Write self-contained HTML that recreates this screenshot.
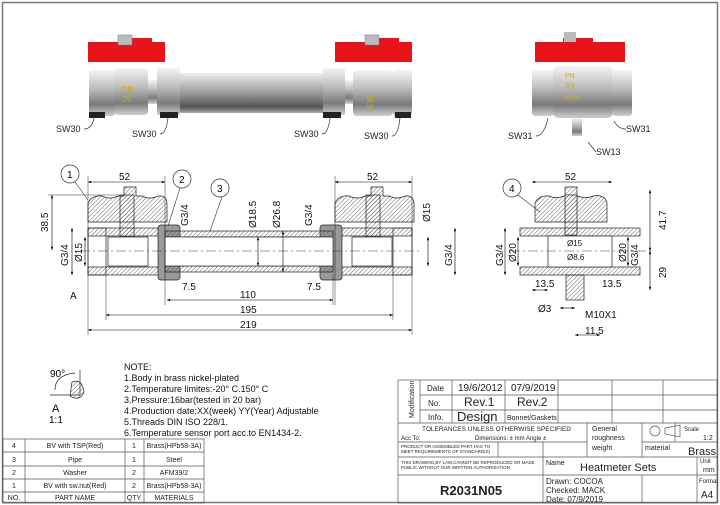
<!DOCTYPE html>
<html><head><style>
body{margin:0;background:#fff}
svg{display:block;font-family:"Liberation Sans",sans-serif}
</style></head><body>
<svg width="720" height="505" viewBox="0 0 720 505" xmlns="http://www.w3.org/2000/svg">
<defs>
<pattern id="h" width="3" height="3" patternUnits="userSpaceOnUse" patternTransform="rotate(45)"><line x1="0" y1="0" x2="0" y2="3" stroke="#444" stroke-width="0.8"/></pattern>
<linearGradient id="m" x1="0" y1="0" x2="0" y2="1"><stop offset="0" stop-color="#f4f4f4"/><stop offset=".4" stop-color="#bdbdbd"/><stop offset=".75" stop-color="#7a7a7a"/><stop offset="1" stop-color="#d0d0d0"/></linearGradient>
<linearGradient id="p" x1="0" y1="0" x2="0" y2="1"><stop offset="0" stop-color="#eee"/><stop offset=".5" stop-color="#9a9a9a"/><stop offset=".85" stop-color="#555"/><stop offset="1" stop-color="#aaa"/></linearGradient>
<marker id="a" viewBox="0 0 8 6" refX="8" refY="3" markerWidth="6" markerHeight="4" orient="auto-start-reverse"><path d="M0,0L8,3L0,6z" fill="#000"/></marker>
</defs>
<rect x="2.5" y="2.5" width="715" height="500" fill="none" stroke="#777" stroke-width="1.5"/>

<g>
<path d="M88,42h30v-4h34v4h13v20h-77z" fill="#e8141a"/>
<rect x="118" y="35" width="14" height="10" fill="#bbb" stroke="#777" stroke-width=".5"/>
<rect x="89" y="70" width="26" height="46" rx="3" fill="url(#m)"/>
<rect x="114" y="68" width="34" height="47" rx="4" fill="url(#m)"/>
<rect x="148" y="80" width="10" height="24" fill="url(#m)"/>
<rect x="157" y="68" width="23" height="47" rx="2" fill="url(#m)"/>
<rect x="180" y="73" width="145" height="40" fill="url(#p)"/>
<rect x="323" y="68" width="22" height="47" rx="2" fill="url(#m)"/>
<rect x="345" y="80" width="9" height="24" fill="url(#m)"/>
<rect x="353" y="70" width="40" height="46" rx="4" fill="url(#m)"/>
<rect x="393" y="70" width="19" height="46" rx="3" fill="url(#m)"/>
<path d="M335,42h30v-4h34v4h13v20h-77z" fill="#e8141a"/>
<rect x="365" y="35" width="14" height="10" fill="#bbb" stroke="#777" stroke-width=".5"/>
<rect x="89" y="112" width="16" height="6" fill="#222"/><rect x="160" y="112" width="18" height="6" fill="#222"/>
<rect x="323" y="112" width="18" height="6" fill="#222"/><rect x="395" y="112" width="16" height="6" fill="#222"/>
<text x="122" y="92" font-size="8" fill="#d4b000">PN</text><text x="122" y="102" font-size="8" fill="#d4b000">25</text>
<text x="372" y="100" font-size="8" fill="#d4b000" transform="rotate(90 372 95)">BON</text>
<g font-size="9" fill="#222"><text x="56" y="132">SW30</text><text x="132" y="137">SW30</text><text x="294" y="137">SW30</text><text x="364" y="139">SW30</text>
<text x="508" y="139">SW31</text><text x="626" y="132">SW31</text><text x="596" y="155">SW13</text></g>
<g stroke="#333" fill="none" stroke-width=".7"><path d="M84,129q8,0 10,-11"/><path d="M160,134q6,0 8,-16"/><path d="M322,134q6,0 8,-16"/><path d="M392,136q6,0 8,-18"/><path d="M536,136q8,0 12,-18"/><path d="M626,129q-8,0 -12,-8"/><path d="M596,152l-8,-10"/></g>
</g>
<path d="M535,42h28v-4h30v4h32v20h-90z" fill="#e8141a"/>
<rect x="564" y="32" width="12" height="10" fill="#bbb"/>
<rect x="532" y="70" width="22" height="46" rx="3" fill="url(#m)"/>
<rect x="553" y="66" width="60" height="52" rx="6" fill="url(#m)"/>
<rect x="612" y="70" width="20" height="46" rx="3" fill="url(#m)"/>
<rect x="572" y="118" width="10" height="18" fill="url(#m)"/>
<text x="565" y="78" font-size="7" fill="#d4b000">PN</text><text x="565" y="88" font-size="7" fill="#d4b000">3/4</text><text x="563" y="100" font-size="7" fill="#d4b000">DN20</text>

<g stroke="#222" stroke-width=".7">
<path d="M88,203q4,-8 14,-7q8,4 16,0h6v-9h12v9h6q8,4 16,0q8,-1 9,7v19h-79z" fill="url(#h)"/>
<path d="M335,203q4,-8 14,-7q8,4 16,0h6v-9h12v9h6q8,4 16,0q8,-1 9,7v19h-79z" fill="url(#h)"/>
<rect x="120" y="195" width="14" height="42" fill="url(#h)"/>
<rect x="366" y="195" width="14" height="42" fill="url(#h)"/>
<rect x="88" y="228" width="80" height="8" fill="url(#h)"/><rect x="88" y="267" width="80" height="8" fill="url(#h)"/>
<rect x="332" y="228" width="80" height="8" fill="url(#h)"/><rect x="332" y="267" width="80" height="8" fill="url(#h)"/>
<rect x="88" y="228" width="18" height="47" fill="none"/><rect x="393" y="228" width="19" height="47" fill="none"/>
<rect x="158" y="225" width="22" height="55" rx="3" fill="#999"/>
<rect x="320" y="225" width="22" height="55" rx="3" fill="#999"/>
<rect x="165" y="231" width="168" height="6" fill="url(#h)"/>
<rect x="165" y="266" width="168" height="6" fill="url(#h)"/>
<rect x="165" y="237" width="168" height="29" fill="#fff"/>
<rect x="108" y="237" width="40" height="29" fill="#fff"/><rect x="352" y="237" width="40" height="29" fill="#fff"/>
</g>
<line x1="80" y1="251" x2="420" y2="251" stroke="#444" stroke-width=".6" stroke-dasharray="10 3 2 3"/>
<g stroke="#000" stroke-width=".6" fill="none" marker-start="url(#a)" marker-end="url(#a)">
<line x1="88" y1="182" x2="165" y2="182"/><line x1="335" y1="182" x2="412" y2="182"/>
<line x1="167" y1="300" x2="333" y2="300"/><line x1="106" y1="315" x2="393" y2="315"/><line x1="88" y1="330" x2="412" y2="330"/>
<line x1="52" y1="195" x2="52" y2="250"/><line x1="72" y1="228" x2="72" y2="275"/><line x1="85" y1="237" x2="85" y2="266"/>
<line x1="258" y1="237" x2="258" y2="266"/><line x1="283" y1="231" x2="283" y2="272"/>
<line x1="428" y1="237" x2="428" y2="266"/><line x1="455" y1="228" x2="455" y2="275"/>
</g>
<g stroke="#000" stroke-width=".4"><line x1="88" y1="176" x2="88" y2="335"/><line x1="412" y1="176" x2="412" y2="335"/><line x1="165" y1="176" x2="165" y2="305"/><line x1="335" y1="176" x2="335" y2="305"/><line x1="106" y1="275" x2="106" y2="320"/><line x1="393" y1="275" x2="393" y2="320"/><line x1="333" y1="275" x2="333" y2="305"/><line x1="48" y1="195" x2="120" y2="195"/></g>
<g font-size="10" fill="#111">
<text x="119" y="180">52</text><text x="367" y="180">52</text>
<text x="240" y="298">110</text><text x="240" y="313">195</text><text x="240" y="328">219</text>
<text x="182" y="290">7.5</text><text x="307" y="290">7.5</text><text x="70" y="299">A</text>
<text transform="translate(48,232) rotate(-90)">38.5</text><text transform="translate(68,266) rotate(-90)">G3/4</text><text transform="translate(82,262) rotate(-90)">Ø15</text>
<text transform="translate(188,226) rotate(-90)">G3/4</text><text transform="translate(256,228) rotate(-90)">Ø18.5</text><text transform="translate(280,228) rotate(-90)">Ø26.8</text><text transform="translate(312,226) rotate(-90)">G3/4</text>
<text transform="translate(430,222) rotate(-90)">Ø15</text><text transform="translate(452,266) rotate(-90)">G3/4</text>
</g>
<g fill="#fff" stroke="#333" stroke-width=".7"><circle cx="70" cy="174" r="9"/><circle cx="182" cy="179" r="9"/><circle cx="220" cy="188" r="9"/><circle cx="512" cy="188" r="9"/></g>
<g font-size="10"><text x="67" y="178">1</text><text x="179" y="183">2</text><text x="217" y="192">3</text><text x="509" y="192">4</text></g>
<g stroke="#333" stroke-width=".6" fill="none"><line x1="75" y1="182" x2="88" y2="200"/><line x1="180" y1="188" x2="168" y2="226"/><line x1="222" y1="197" x2="210" y2="231"/><line x1="518" y1="195" x2="540" y2="212"/></g>

<g stroke="#222" stroke-width=".7">
<path d="M535,203q4,-8 14,-7q6,3 16,0v-9h12v9q10,3 16,0q12,-2 14,7v19h-72z" fill="url(#h)"/>
<rect x="565" y="195" width="12" height="40" fill="url(#h)"/>
<rect x="520" y="228" width="120" height="8" fill="url(#h)"/><rect x="520" y="267" width="120" height="8" fill="url(#h)"/>
<rect x="548" y="236" width="64" height="31" fill="#fff"/>
<rect x="566" y="275" width="18" height="25" fill="url(#h)"/>
</g>
<line x1="510" y1="251" x2="650" y2="251" stroke="#444" stroke-width=".6" stroke-dasharray="10 3 2 3"/>
<g stroke="#000" stroke-width=".6" fill="none" marker-start="url(#a)" marker-end="url(#a)">
<line x1="532" y1="182" x2="612" y2="182"/><line x1="650" y1="190" x2="650" y2="251"/><line x1="650" y1="251" x2="650" y2="290"/>
<line x1="505" y1="228" x2="505" y2="275"/><line x1="518" y1="237" x2="518" y2="266"/><line x1="628" y1="237" x2="628" y2="266"/>
<line x1="532" y1="290" x2="548" y2="290"/><line x1="560" y1="308" x2="575" y2="308"/><line x1="575" y1="335" x2="600" y2="335"/>
</g>
<g font-size="10" fill="#111"><text x="565" y="180">52</text><text transform="translate(666,230) rotate(-90)">41.7</text><text transform="translate(666,278) rotate(-90)">29</text>
<text transform="translate(503,266) rotate(-90)">G3/4</text><text transform="translate(516,262) rotate(-90)">Ø20</text><text transform="translate(626,262) rotate(-90)">Ø20</text><text transform="translate(638,266) rotate(-90)">G3/4</text>
<text x="535" y="287">13.5</text><text x="602" y="287">13.5</text><text x="538" y="312">Ø3</text><text x="585" y="318">M10X1</text><text x="585" y="334">11.5</text>
<text x="567" y="246" font-size="8">Ø15</text><text x="567" y="260" font-size="8">Ø8.6</text></g>

<g stroke="#222" stroke-width=".7" fill="none"><line x1="80" y1="370" x2="80" y2="395"/><line x1="50" y1="395" x2="80" y2="395"/><path d="M72,382q10,-4 12,10q-4,10 -14,4z" fill="url(#h)"/><path d="M55,390q0,-15 20,-17"/></g>
<text x="50" y="377" font-size="10">90°</text><text x="52" y="412" font-size="11">A</text><text x="49" y="423" font-size="10">1:1</text>

<g font-size="9" fill="#111"><text x="124" y="370">NOTE:</text><text x="124" y="381">1.Body in brass nickel-plated</text><text x="124" y="392">2.Temperature limites:-20° C.150° C</text><text x="124" y="403">3.Pressure:16bar(tested in 20 bar)</text><text x="124" y="414">4.Production date:XX(week) YY(Year) Adjustable</text><text x="124" y="425">5.Threads DIN ISO 228/1.</text><text x="124" y="436">6.Temperature sensor port acc.to EN1434-2.</text></g>

<g stroke="#555" stroke-width=".7" fill="none">
<rect x="3" y="439" width="201" height="64"/>
<line x1="3" y1="452" x2="204" y2="452"/><line x1="3" y1="466" x2="204" y2="466"/><line x1="3" y1="479" x2="204" y2="479"/><line x1="3" y1="492" x2="204" y2="492"/>
<line x1="25" y1="439" x2="25" y2="503"/><line x1="125" y1="439" x2="125" y2="503"/><line x1="144" y1="439" x2="144" y2="503"/>
</g>
<g font-size="7" fill="#222" text-anchor="middle">
<text x="14" y="448">4</text><text x="75" y="448">BV with TSP(Red)</text><text x="134" y="448">1</text><text x="174" y="448">Brass(HPb58-3A)</text>
<text x="14" y="462">3</text><text x="75" y="462">Pipe</text><text x="134" y="462">1</text><text x="174" y="462">Steel</text>
<text x="14" y="475">2</text><text x="75" y="475">Washer</text><text x="134" y="475">2</text><text x="174" y="475">AFM39/2</text>
<text x="14" y="488">1</text><text x="75" y="488">BV with sw.nut(Red)</text><text x="134" y="488">2</text><text x="174" y="488">Brass(HPb58-3A)</text>
<text x="14" y="500">NO.</text><text x="75" y="500">PART NAME</text><text x="134" y="500">QTY</text><text x="174" y="500">MATERIALS</text>
</g>

<g stroke="#555" stroke-width=".7" fill="none">
<rect x="398" y="380" width="319" height="123"/>
<line x1="420" y1="380" x2="420" y2="423"/><line x1="452" y1="380" x2="452" y2="423"/><line x1="505" y1="380" x2="505" y2="423"/><line x1="558" y1="380" x2="558" y2="423"/><line x1="612" y1="380" x2="612" y2="423"/><line x1="663" y1="380" x2="663" y2="423"/>
<line x1="420" y1="395" x2="717" y2="395"/><line x1="420" y1="410" x2="717" y2="410"/><line x1="398" y1="423" x2="717" y2="423"/>
<line x1="398" y1="442" x2="587" y2="442"/><line x1="398" y1="457" x2="717" y2="457"/><line x1="398" y1="475" x2="717" y2="475"/>
<line x1="543" y1="442" x2="543" y2="503"/><line x1="587" y1="423" x2="587" y2="457"/><line x1="642" y1="423" x2="642" y2="457"/><line x1="675" y1="423" x2="675" y2="442"/><line x1="697" y1="457" x2="697" y2="503"/><line x1="642" y1="475" x2="642" y2="503"/>
<line x1="642" y1="442" x2="717" y2="442"/><line x1="498" y1="442" x2="498" y2="457"/>
<circle cx="655" cy="431" r="5"/><path d="M665,428l15,-3v12l-15,-3z"/>
</g>
<g fill="#222">
<text transform="translate(414,418) rotate(-90)" font-size="7">Modification</text>
<text x="427" y="391" font-size="8">Date</text><text x="458" y="391" font-size="10">19/6/2012</text><text x="511" y="391" font-size="10">07/9/2019</text>
<text x="428" y="406" font-size="8">No.</text><text x="464" y="406" font-size="12">Rev.1</text><text x="517" y="406" font-size="12">Rev.2</text>
<text x="428" y="420" font-size="8">Info.</text><text x="457" y="421" font-size="13">Design</text><text x="507" y="420" font-size="7">Bonnet/Gaskets</text>
<text x="422" y="431" font-size="6.5">TOLERANCES UNLESS OTHERWISE SPECIFIED</text>
<text x="401" y="440" font-size="6">Acc To:</text><text x="475" y="440" font-size="6">Dimensions: ±    mm   Angle ±</text>
<text x="592" y="431" font-size="7">General</text><text x="592" y="440" font-size="7">roughness</text>
<text x="684" y="431" font-size="6">Scale</text><text x="703" y="440" font-size="7">1:2</text>
<text x="401" y="448" font-size="4.5">PRODUCT OR ASSEMBLED PART HAS TO</text><text x="401" y="453" font-size="4.5">MEET REQUIREMENTS OF STANDARD(S)</text>
<text x="592" y="450" font-size="7">weight</text><text x="645" y="450" font-size="7">material</text><text x="688" y="455" font-size="11">Brass</text>
<text x="401" y="464" font-size="4.5">THIS DRAWING,BY LAW,CANNOT BE REPRODUCED OR MADE</text><text x="401" y="469" font-size="4.5">PUBLIC WITHOUT OUR WRITTEN AUTHORIZATION.</text>
<text x="546" y="465" font-size="7">Name</text><text x="580" y="471" font-size="11">Heatmeter Sets</text>
<text x="700" y="463" font-size="6">Unit</text><text x="703" y="472" font-size="7">mm</text>
<text x="440" y="495" font-size="13" font-weight="bold">R2031N05</text>
<text x="546" y="484" font-size="8">Drawn:   COCOA</text><text x="546" y="493" font-size="8">Checked:  MACK</text><text x="546" y="502" font-size="8">Date:    07/9/2019</text>
<text x="699" y="483" font-size="6">Format</text><text x="701" y="498" font-size="10">A4</text>
</g>
</svg>
</body></html>
